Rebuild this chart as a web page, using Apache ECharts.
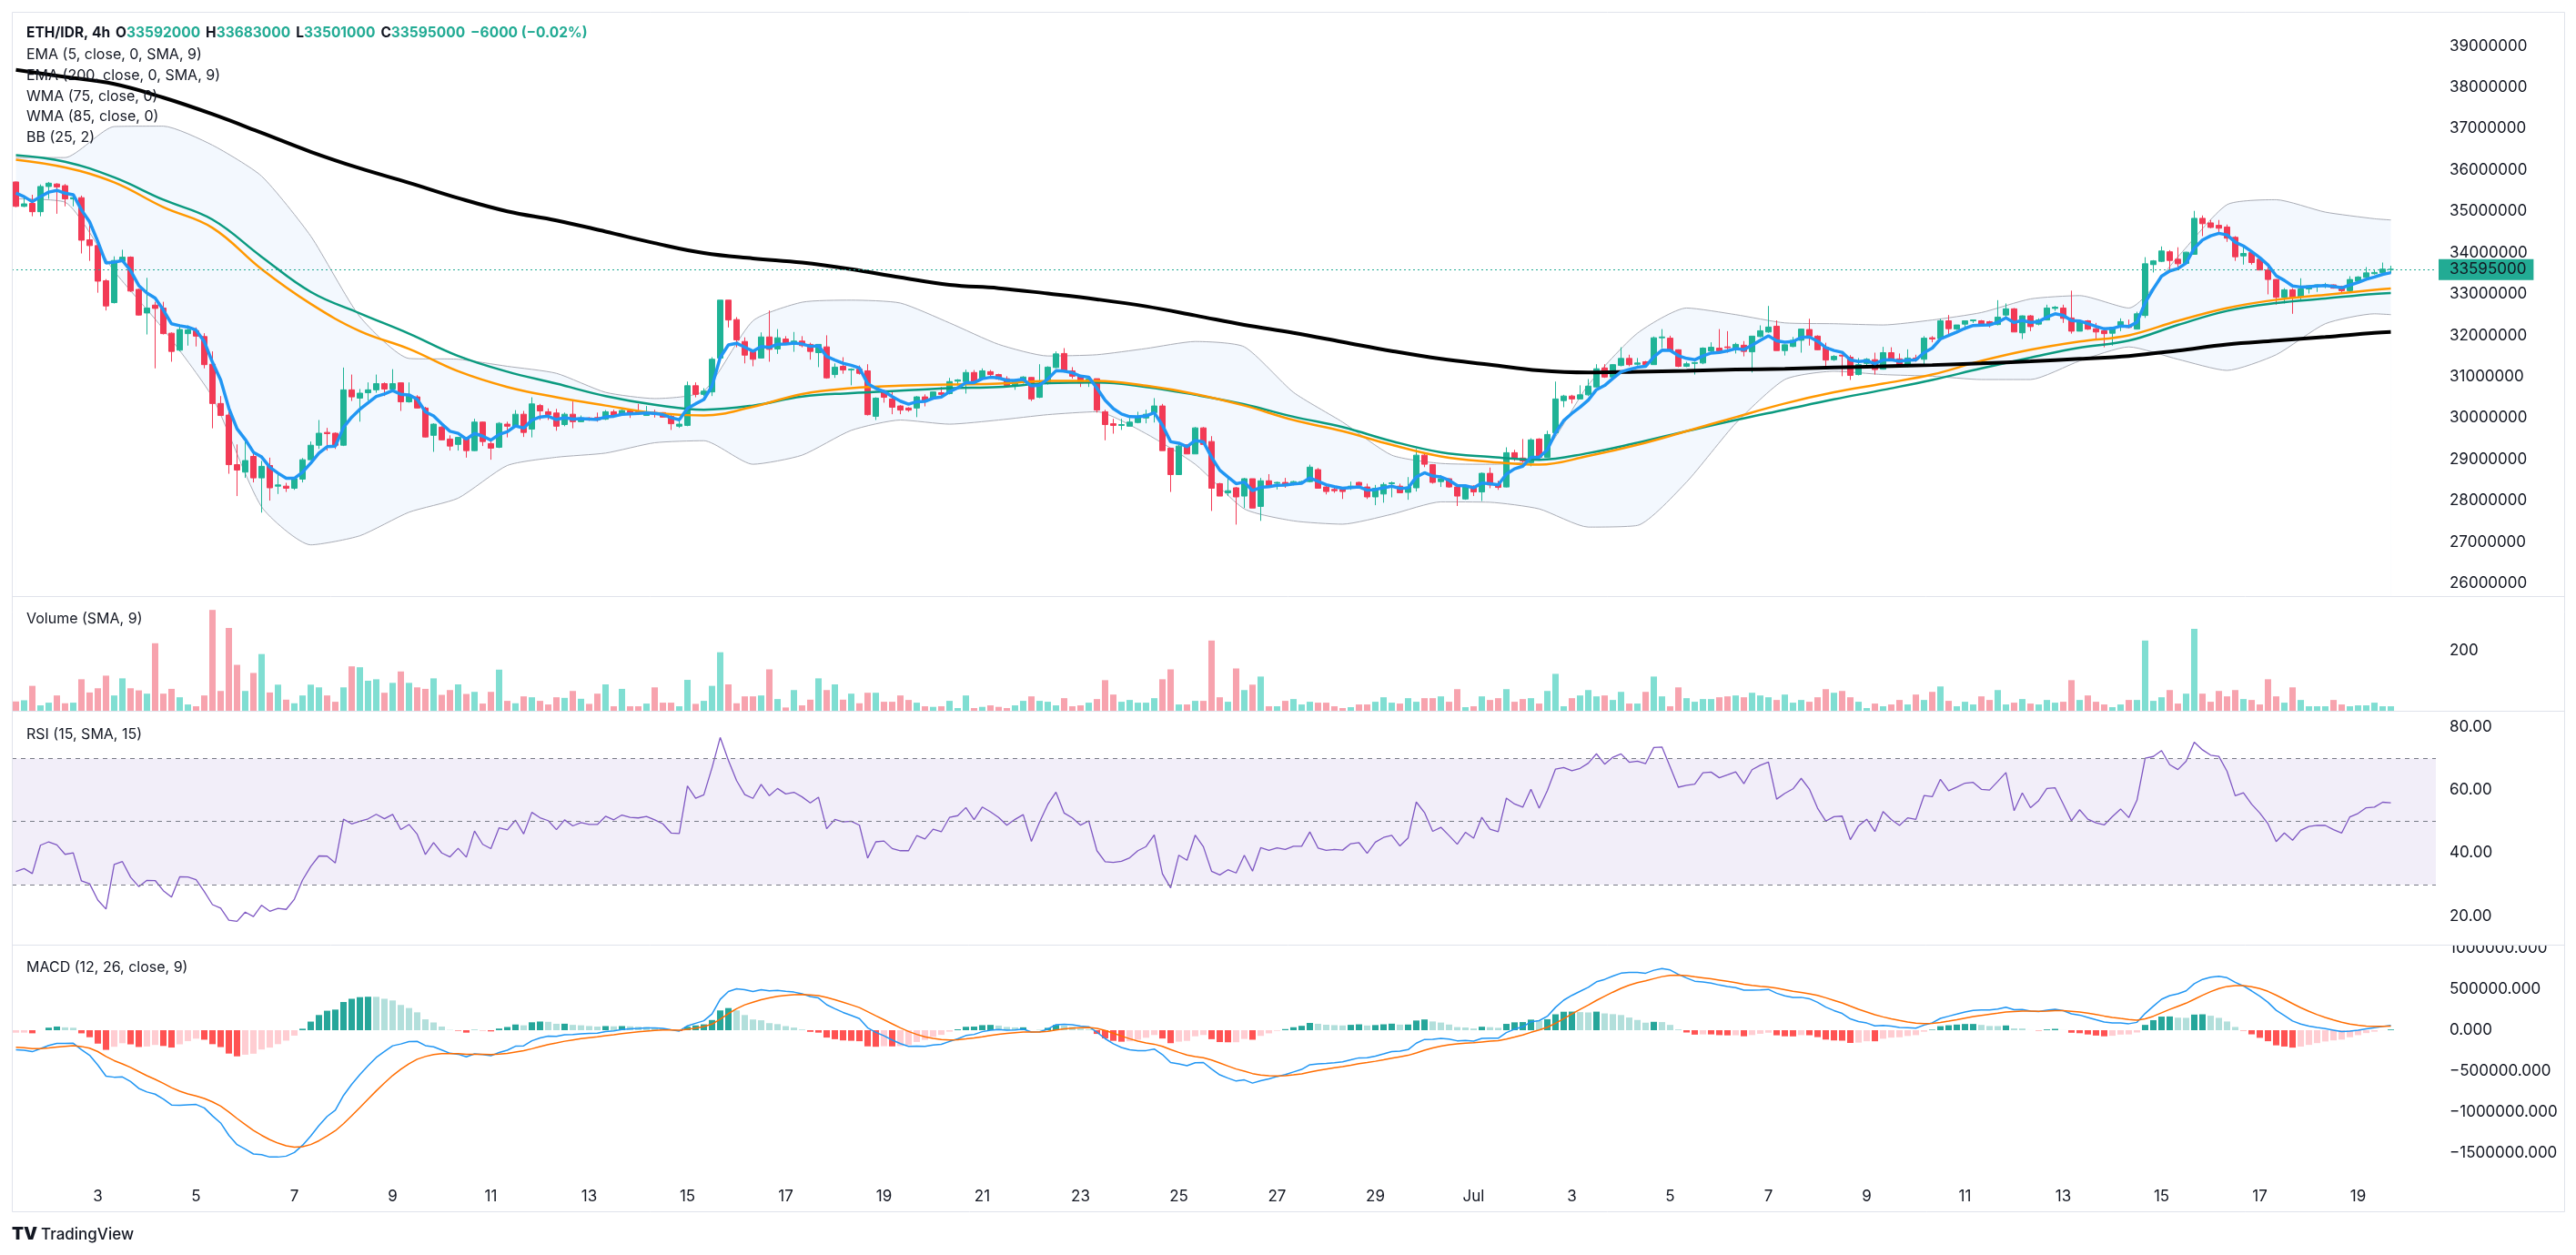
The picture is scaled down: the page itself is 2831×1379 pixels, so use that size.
<!DOCTYPE html>
<html>
<head>
<meta charset="utf-8">
<title>ETH/IDR 4h</title>
<script src="https://cdn.jsdelivr.net/npm/echarts@6/dist/echarts.min.js"></script>
<style>
  html, body { margin: 0; padding: 0; background: #ffffff; }
  #chart { width: 2831px; height: 1379px; }
</style>
</head>
<body>
<div id="chart"></div>
<script>
// Prices in millions of IDR, one 4h candle per entry, first candle Jun 1 08:00
const open = [
  35.71,35.12,35.19,34.99,35.60,35.66,35.62,35.30,35.33,34.31,
  34.17,33.32,32.79,33.79,33.89,33.11,32.54,32.73,32.66,32.05,
  31.64,32.04,32.11,31.97,31.30,30.35,30.07,28.87,28.69,29.07,
  28.55,28.85,28.35,28.35,28.30,28.52,28.99,29.34,29.65,29.63,
  29.34,30.68,30.48,30.61,30.68,30.83,30.70,30.85,30.39,30.51,
  30.24,29.58,29.78,29.49,29.36,29.53,29.21,29.90,29.38,29.29,
  29.85,29.80,30.09,29.73,30.30,30.15,30.12,29.84,30.09,29.91,
  30.00,30.01,29.97,30.15,30.08,30.17,30.15,30.06,30.13,30.13,
  30.04,29.80,29.82,30.78,30.57,30.63,31.45,32.85,32.38,31.85,
  31.60,31.45,31.96,31.67,31.91,31.83,31.86,31.78,31.58,31.72,
  31.05,31.25,31.16,31.18,31.14,30.04,30.66,30.46,30.29,30.24,
  30.24,30.51,30.47,30.61,30.59,30.89,30.88,31.10,30.95,31.12,
  31.05,30.95,30.79,30.90,30.98,30.50,30.83,31.22,31.56,31.14,
  31.01,30.86,30.95,30.15,29.86,29.82,29.80,29.89,30.00,30.13,
  30.29,29.27,28.63,29.35,29.13,29.76,29.43,28.41,28.19,28.31,
  28.11,28.53,27.86,28.48,28.42,28.44,28.42,28.45,28.46,28.75,
  28.33,28.27,28.27,28.33,28.44,28.33,28.09,28.16,28.41,28.35,
  28.20,28.31,29.10,28.87,28.46,28.53,28.33,28.04,28.35,28.21,
  28.66,28.41,28.33,29.16,29.03,28.92,29.49,29.05,29.64,30.42,
  30.53,30.46,30.56,30.75,31.21,30.99,31.27,31.44,31.30,31.36,
  31.29,31.94,31.93,31.65,31.25,31.32,31.33,31.62,31.69,31.72,
  31.69,31.76,31.60,31.97,32.08,32.22,31.63,31.73,31.88,32.14,
  31.98,31.71,31.41,31.52,31.47,31.05,31.32,31.41,31.18,31.58,
  31.43,31.30,31.45,31.42,31.94,31.92,32.35,32.15,32.27,32.35,
  32.35,32.33,32.26,32.49,32.64,32.06,32.47,32.27,32.37,32.65,
  32.66,32.42,32.10,32.35,32.16,32.11,32.05,32.22,32.22,32.15,
  32.48,33.71,33.79,34.02,33.84,33.74,33.96,34.83,34.72,34.66,
  34.62,34.37,33.92,34.00,33.84,33.58,33.35,32.92,33.10,32.92,
  33.12,33.20,33.21,33.22,33.18,33.08,33.31,33.40,33.49,33.52,
  33.592
];
const high = [
  35.72,35.34,35.40,35.65,35.71,35.68,35.66,35.34,35.38,34.79,
  34.35,33.36,33.91,34.07,33.91,33.13,33.39,32.81,32.81,32.07,
  32.26,32.24,32.19,32.05,31.61,30.53,30.29,29.36,29.51,29.18,
  28.96,29.04,28.64,28.43,28.55,29.03,29.43,29.95,29.76,29.65,
  31.22,31.05,30.70,30.86,31.05,30.86,31.18,30.86,30.86,30.55,
  30.27,29.87,29.80,29.58,29.54,29.54,29.98,29.91,29.47,29.90,
  29.91,30.19,30.17,30.50,30.34,30.23,30.22,30.13,30.40,30.06,
  30.02,30.13,30.19,30.20,30.20,30.17,30.34,30.29,30.20,30.14,
  30.10,29.95,30.88,30.86,30.72,31.47,32.85,32.85,32.44,31.95,
  31.64,32.07,32.60,32.15,31.98,32.08,31.98,31.82,31.78,32.00,
  31.32,31.47,31.20,31.27,31.30,30.50,30.68,30.66,30.31,30.26,
  30.53,30.57,30.64,30.75,30.97,30.94,31.17,31.16,31.20,31.16,
  31.07,31.01,30.94,31.01,30.99,31.30,31.25,31.61,31.69,31.23,
  31.03,31.00,30.95,30.20,29.98,29.98,30.00,30.15,30.20,30.48,
  30.34,29.27,29.36,29.36,29.78,29.78,29.56,28.43,28.55,28.33,
  28.55,28.53,28.55,28.64,28.46,28.55,28.48,28.48,28.87,28.79,
  28.41,28.33,28.30,28.46,28.46,28.41,28.38,28.44,28.46,28.41,
  28.57,29.25,29.14,28.88,28.62,28.54,28.37,28.37,28.37,28.68,
  28.80,28.48,29.29,29.23,29.49,29.51,29.51,29.69,30.88,30.56,
  30.56,30.79,30.94,31.30,31.30,31.30,31.71,31.53,31.45,31.38,
  31.97,32.15,31.99,31.66,31.36,31.36,31.71,31.83,32.15,32.10,
  31.82,31.86,31.98,32.24,32.71,32.36,31.78,31.96,32.16,32.40,
  32.00,31.82,31.52,31.52,31.52,31.45,31.45,31.58,31.72,31.71,
  31.56,31.66,31.53,31.98,31.98,32.40,32.49,32.25,32.35,32.37,
  32.37,32.35,32.85,32.77,32.66,32.48,32.49,32.41,32.74,32.71,
  32.74,33.08,32.37,32.37,32.30,32.19,32.20,32.41,32.38,32.57,
  33.89,33.82,34.15,34.06,34.13,34.02,35.01,34.90,34.79,34.79,
  34.68,34.40,34.13,34.02,33.89,33.65,33.36,33.14,33.14,33.38,
  33.21,33.23,33.27,33.23,33.20,33.43,33.43,33.65,33.58,33.76,
  33.683
];
const low = [
  35.10,35.10,34.88,34.88,35.30,34.94,35.12,35.12,33.98,33.80,
  33.03,32.60,32.77,33.78,33.05,32.48,32.02,31.20,32.02,31.36,
  31.61,31.75,31.73,31.20,29.75,30.06,28.65,28.11,28.55,28.44,
  27.71,28.00,28.16,28.21,28.26,28.44,28.99,29.25,29.21,29.25,
  29.32,30.41,29.91,30.42,30.61,30.53,30.68,30.17,30.37,30.23,
  29.53,29.18,29.46,29.21,29.21,29.04,29.20,29.32,28.99,29.27,
  29.53,29.80,29.54,29.53,29.95,29.95,29.69,29.80,29.75,29.90,
  29.93,29.91,29.95,30.04,30.06,30.00,30.07,30.06,30.01,30.01,
  29.71,29.76,29.80,30.50,30.53,30.53,31.44,32.19,31.71,31.32,
  31.25,31.44,31.36,31.55,31.80,31.60,31.71,31.41,31.23,30.95,
  30.97,31.07,30.79,31.05,30.06,29.95,30.37,30.09,30.09,30.15,
  30.02,30.28,30.46,30.50,30.57,30.79,30.59,30.83,30.94,31.01,
  30.92,30.74,30.68,30.83,30.41,30.48,30.81,31.20,31.10,30.95,
  30.75,30.75,30.13,29.46,29.62,29.71,29.80,29.87,29.87,29.89,
  29.21,28.21,28.63,29.13,29.13,29.36,27.75,28.11,28.11,27.42,
  27.82,27.82,27.51,28.31,28.27,28.31,28.37,28.43,28.44,28.30,
  28.15,28.19,28.04,28.26,28.30,28.04,27.89,27.95,28.08,28.19,
  28.02,28.22,28.81,28.41,28.33,28.31,27.87,28.02,28.11,27.99,
  28.30,28.26,28.32,28.96,28.92,28.83,29.03,29.05,29.64,30.26,
  30.35,30.45,30.53,30.74,30.97,30.95,31.25,31.25,31.27,31.27,
  31.29,31.69,31.61,31.23,31.23,31.05,31.30,31.58,31.60,31.58,
  31.56,31.49,31.10,31.95,32.06,31.63,31.51,31.71,31.58,31.75,
  31.64,31.25,31.38,31.01,30.92,31.03,31.23,31.05,31.17,31.39,
  31.25,31.23,31.36,31.30,31.83,31.91,31.98,32.13,32.13,32.30,
  32.26,32.19,32.24,32.44,32.08,31.91,32.10,32.24,32.36,32.59,
  32.30,32.04,32.10,32.13,31.91,31.71,31.75,32.10,32.17,32.14,
  32.42,33.52,33.77,33.54,33.65,33.73,33.95,34.40,34.59,34.45,
  34.26,33.80,33.71,33.71,33.57,32.99,32.74,32.77,32.52,32.85,
  33.01,33.05,33.14,33.13,33.01,33.07,33.29,33.36,33.47,33.47,
  33.501
];
const close = [
  35.12,35.18,34.99,35.60,35.68,35.59,35.30,35.33,34.30,34.17,
  33.31,32.71,33.81,33.89,33.07,32.49,32.66,32.65,32.04,31.61,
  32.14,32.13,31.98,31.29,30.35,30.06,28.87,28.74,28.97,28.55,
  28.83,28.31,28.38,28.30,28.53,28.99,29.34,29.63,29.62,29.34,
  30.68,30.51,30.60,30.68,30.83,30.70,30.83,30.39,30.53,30.24,
  29.54,29.85,29.47,29.32,29.53,29.21,29.90,29.43,29.27,29.87,
  29.80,30.09,29.65,30.34,30.17,30.08,29.80,30.09,29.91,30.00,
  29.95,29.95,30.15,30.07,30.18,30.13,30.12,30.15,30.09,30.02,
  29.86,29.85,30.78,30.57,30.65,31.42,32.85,32.37,31.89,31.52,
  31.42,31.96,31.66,31.94,31.80,31.86,31.75,31.61,31.78,30.97,
  31.23,31.16,31.18,31.08,30.08,30.48,30.50,30.26,30.19,30.19,
  30.51,30.42,30.63,30.57,30.88,30.92,31.10,30.86,31.14,31.05,
  30.94,30.79,30.90,30.99,30.46,30.83,31.23,31.55,31.12,31.01,
  30.85,30.94,30.19,29.84,29.82,29.84,29.90,30.02,30.09,30.29,
  29.21,28.63,29.32,29.13,29.76,29.36,28.30,28.11,28.24,28.09,
  28.53,27.82,28.48,28.37,28.44,28.38,28.46,28.46,28.81,28.30,
  28.22,28.24,28.22,28.35,28.37,28.09,28.30,28.39,28.43,28.19,
  28.33,29.10,28.88,28.44,28.53,28.33,28.11,28.35,28.21,28.66,
  28.38,28.32,29.16,29.03,28.96,29.47,29.05,29.60,30.46,30.53,
  30.46,30.56,30.77,31.19,30.99,31.29,31.44,31.29,31.33,31.29,
  31.94,31.96,31.63,31.25,31.31,31.34,31.69,31.71,31.62,31.70,
  31.78,31.61,31.98,32.11,32.20,31.63,31.77,31.88,32.15,31.98,
  31.65,31.40,31.49,31.50,31.03,31.29,31.42,31.17,31.58,31.42,
  31.30,31.45,31.42,31.93,31.91,32.35,32.16,32.25,32.35,32.37,
  32.27,32.26,32.44,32.64,32.08,32.47,32.21,32.37,32.66,32.68,
  32.41,32.10,32.33,32.15,32.08,32.04,32.19,32.33,32.19,32.52,
  33.73,33.80,34.04,33.81,33.73,34.01,34.83,34.70,34.61,34.59,
  34.35,33.90,33.98,33.76,33.58,33.35,32.92,33.10,32.92,33.12,
  33.20,33.22,33.22,33.14,33.08,33.35,33.41,33.51,33.52,33.601,
  33.595
];
const volume = [
  31,35,83,18,27,51,25,27,105,61,
  75,117,51,108,75,68,57,225,57,73,
  45,21,15,51,336,66,276,153,66,126,
  189,61,87,37,25,51,87,78,51,30,
  78,148,145,100,105,60,93,131,93,78,
  73,108,53,69,88,56,63,24,63,137,
  33,25,48,45,33,21,45,43,66,40,
  23,57,88,15,73,15,15,24,78,27,
  27,15,103,23,33,83,195,88,25,48,
  48,51,138,39,11,69,18,37,108,69,
  88,37,57,25,60,60,30,30,51,36,
  27,15,13,15,33,9,51,9,13,18,
  13,9,18,33,48,33,30,18,42,
  15,18,27,39,102,54,30,36,27,27,
  42,105,138,21,21,33,33,234,45,30,
  141,69,87,114,15,15,33,39,21,30,
  27,27,15,9,12,21,21,30,45,
  27,24,42,30,42,42,48,30,72,12,
  15,48,36,42,72,30,39,42,24,66,
  123,15,42,51,69,48,51,36,63,24,
  24,63,114,48,15,78,42,30,39,39,
  45,48,51,45,60,51,45,36,54,27,
  36,30,45,72,60,66,45,30,9,24,
  15,21,36,21,54,36,63,81,33,
  15,30,21,48,36,69,21,27,39,24,
  21,36,27,30,102,36,51,30,21,12,
  21,36,36,234,33,45,69,24,57,273,
  57,30,66,48,69,39,36,21,105,48,
  27,78,36,15,15,15,36,21,15,18,
  18,27,15,15
];

// Long averages and Bollinger bands, one point every 6 candles
const lineIdx = [0,6,12,18,24,30,36,42,48,54,60,66,72,78,84,90,96,102,108,114,120,126,132,138,144,150,156,162,168,174,180,186,192,198,204,210,216,222,228,234,240,246,252,258,264,270,276,282,288,290];
const ema200 = [
  38.42,38.25,38.08,37.75,37.35,36.90,36.44,36.04,35.69,35.32,
  35.00,34.78,34.51,34.23,33.99,33.86,33.76,33.60,33.40,33.22,
  33.14,33.01,32.87,32.70,32.48,32.25,32.06,31.84,31.62,31.43,
  31.29,31.15,31.10,31.12,31.14,31.17,31.19,31.22,31.25,31.28,
  31.32,31.37,31.43,31.50,31.63,31.78,31.87,31.96,32.06,32.08
];
const wma75 = [
  36.25,36.06,35.70,35.10,34.60,33.60,32.76,32.10,31.67,31.13,
  30.75,30.50,30.30,30.12,30.06,30.27,30.58,30.72,30.78,30.81,
  30.83,30.90,30.90,30.78,30.58,30.30,29.95,29.68,29.35,29.07,
  28.94,28.87,29.08,29.35,29.68,30.02,30.35,30.62,30.83,31.05,
  31.38,31.65,31.85,32.00,32.35,32.66,32.86,32.98,33.10,33.13
];
const wma85 = [
  36.36,36.20,35.82,35.28,34.80,33.90,33.05,32.53,32.04,31.50,
  31.12,30.83,30.53,30.32,30.20,30.30,30.52,30.60,30.66,30.72,
  30.75,30.84,30.86,30.75,30.56,30.33,30.03,29.78,29.44,29.17,
  29.06,28.99,29.15,29.40,29.68,29.95,30.20,30.45,30.68,30.92,
  31.20,31.46,31.70,31.87,32.25,32.59,32.78,32.89,33.00,33.02
];
const bbUpper = [
  36.30,36.30,37.05,37.06,36.60,35.85,34.40,32.45,31.44,31.42,
  31.25,31.08,30.62,30.47,30.65,32.35,32.80,32.85,32.78,32.30,
  31.78,31.50,31.53,31.68,31.85,31.72,30.62,29.90,29.10,28.90,
  28.88,29.03,30.80,32.05,32.66,32.50,32.30,32.28,32.25,32.37,
  32.55,32.88,32.96,32.66,33.90,35.16,35.28,34.98,34.82,34.79
];
const bbLower = [
  35.30,35.22,33.55,32.15,30.50,27.85,26.93,27.15,27.72,28.06,
  28.85,29.05,29.15,29.40,29.45,28.88,29.10,29.70,29.95,29.85,
  29.95,30.08,30.15,29.62,28.88,27.80,27.51,27.43,27.67,27.97,
  27.96,27.80,27.36,27.40,28.45,29.87,30.93,31.13,31.05,31.01,
  30.93,30.93,31.38,31.72,31.42,31.15,31.53,32.28,32.52,32.50
];

// State of the indicators before the first candle (read from the left edge)
const seed = { ema5: 35.6, ema12: 35.55, ema26: 35.77, signal: -0.2, rsiUp: 0.11, rsiDown: 0.17 };

const priceTicks = [26, 27, 28, 29, 30, 31, 32, 33, 34, 35, 36, 37, 38, 39];
const volumeTicks = [200];
const rsiTicks = [20, 40, 60, 80];
const macdTicks = [1, 0.5, 0, -0.5, -1, -1.5];
const lastPrice = 33.595;
const emptySlots = 5;

const colors = {
    up: '#1fb396',
    down: '#f23a55',
    volUp: '#80ded2',
    volDown: '#f7a3ae',
    ema5: '#2196f3',
    ema200: '#000000',
    wma75: '#ff9800',
    wma85: '#0b9a7f',
    bb: '#a9acb5',
    bbFill: '#f3f8fe',
    rsi: '#7e57c2',
    macd: '#2196f3',
    signal: '#ff6d00',
    text: '#131722',
    frame: '#e0e3eb'
};
const font = 'Inter, "Noto Sans", sans-serif';

// time categories, 4h apart
const startTime = Date.UTC(2023, 5, 1, 8);
const times = [];
for (let i = 0; i < close.length + emptySlots; i++) times.push(startTime + i * 4 * 3600 * 1000);
const categories = times.map(t => String(t));

function isDayLabel(index) {
    const d = new Date(times[index]);
    return d.getUTCHours() === 0 && d.getUTCDate() % 2 === 1;
}

// EMA 5
const ema5 = [];
let e5 = seed.ema5;
close.forEach(c => { e5 += (c - e5) * 2 / 6; ema5.push(e5); });

// RSI 15 (RMA)
const rsi = [];
let avgUp = seed.rsiUp, avgDown = seed.rsiDown;
close.forEach((c, i) => {
    const ch = c - (i === 0 ? open[0] : close[i - 1]);
    avgUp += (Math.max(ch, 0) - avgUp) / 15;
    avgDown += (Math.max(-ch, 0) - avgDown) / 15;
    rsi.push(100 - 100 / (1 + avgUp / avgDown));
});

// MACD 12 26 9
const macd = [], signal = [], hist = [];
let fast = seed.ema12, slow = seed.ema26, sig = seed.signal;
close.forEach(c => {
    fast += (c - fast) * 2 / 13;
    slow += (c - slow) * 2 / 27;
    const m = fast - slow;
    sig += (m - sig) * 2 / 10;
    macd.push(m);
    signal.push(sig);
    hist.push(m - sig);
});
const histData = hist.map((h, i) => {
    const prev = i === 0 ? h : hist[i - 1];
    let c;
    if (h >= 0) c = h > prev ? '#26a69a' : '#b2dfdb';
    else c = h < prev ? '#ff5252' : '#ffcdd2';
    return { value: h, itemStyle: { color: c } };
});

const candles = open.map((o, i) => [o, close[i], low[i], high[i]]);
const volData = volume.map((v, i) => ({
    value: v,
    itemStyle: { color: close[i] >= open[i] ? colors.volUp : colors.volDown }
}));
const pairs = arr => lineIdx.map((x, k) => [x, arr[k]]);

const axisText = { color: colors.text, fontSize: 17, fontFamily: font };
const minus = s => s.replace('-', '\u2212');

function yAxisFor(grid, min, max, ticks, fmt) {
    return {
        type: 'value', gridIndex: grid, position: 'right', min: min, max: max,
        axisLine: { show: false }, axisTick: { show: false }, splitLine: { show: false },
        axisLabel: Object.assign({ customValues: ticks, formatter: fmt, margin: 15 }, axisText)
    };
}

const legendRich = {
    t: { color: colors.text, fontSize: 15.5, fontFamily: font },
    k: { color: colors.text, fontSize: 15.5, fontFamily: font, padding: [0, 0, 0, 6] },
    v: { color: '#22ab94', fontSize: 15.5, fontFamily: font },
    w: { color: '#22ab94', fontSize: 15.5, fontFamily: font, padding: [0, 0, 0, 6] }
};
function label(text, top) {
    return { text: text, left: 24, top: top, textStyle: { color: colors.text, fontSize: 16, fontFamily: font, fontWeight: 'normal' } };
}

const chart = echarts.init(document.getElementById('chart'));
chart.setOption({
    animation: false,
    backgroundColor: '#ffffff',
    title: [
        {
            left: 24, top: 23,
            text: '{t|ETH/IDR, 4h}{k|O}{v|33592000}{k|H}{v|33683000}{k|L}{v|33501000}{k|C}{v|33595000}{w|\u22126000 (\u22120.02%)}',
            textStyle: { rich: legendRich }
        },
        label('EMA (5, close, 0, SMA, 9)', 47),
        label('EMA (200, close, 0, SMA, 9)', 70),
        label('WMA (75, close, 0)', 93),
        label('WMA (85, close, 0)', 115),
        label('BB (25, 2)', 138),
        label('Volume (SMA, 9)', 667),
        label('RSI (15, SMA, 15)', 794),
        label('MACD (12, 26, close, 9)', 1050)
    ],
    grid: [
        { left: 13, top: 13, width: 2664, height: 642 },
        { left: 13, top: 656, width: 2664, height: 125 },
        { left: 13, top: 782, width: 2664, height: 256 },
        { left: 13, top: 1039, width: 2664, height: 256 }
    ],
    xAxis: [0, 1, 2, 3].map(g => ({
        type: 'category', gridIndex: g, data: categories, boundaryGap: true,
        axisLine: { show: false }, axisTick: { show: false }, splitLine: { show: false },
        axisLabel: g === 3 ? Object.assign({
            margin: 11,
            interval: index => isDayLabel(index),
            formatter: value => {
                const d = new Date(Number(value));
                return d.getUTCDate() === 1 ? 'Jul' : String(d.getUTCDate());
            }
        }, axisText) : { show: false }
    })),
    yAxis: [
        yAxisFor(0, 25.69, 39.826, priceTicks, v => String(Math.round(v * 1e6))),
        yAxisFor(1, 0, 379, volumeTicks, v => String(v)),
        yAxisFor(2, 10.93, 84.85, rsiTicks, v => v.toFixed(2)),
        yAxisFor(3, -1.811, 1.0333, macdTicks, v => minus((Math.round(v * 1e6)).toFixed(3)))
    ],
    series: [
        {
            name: 'BB upper', type: 'line', xAxisIndex: 0, yAxisIndex: 0, z: 1,
            data: pairs(bbUpper), showSymbol: false, smooth: 0.2,
            lineStyle: { color: colors.bb, width: 1 },
            areaStyle: { color: colors.bbFill, origin: 'start', opacity: 1 }
        },
        {
            name: 'BB lower', type: 'line', xAxisIndex: 0, yAxisIndex: 0, z: 1,
            data: pairs(bbLower), showSymbol: false, smooth: 0.2,
            lineStyle: { color: colors.bb, width: 1 },
            areaStyle: { color: '#ffffff', origin: 'start', opacity: 1 }
        },
        {
            name: 'ETH/IDR', type: 'candlestick', xAxisIndex: 0, yAxisIndex: 0, z: 2,
            data: candles, barWidth: 6,
            itemStyle: { color: colors.up, color0: colors.down, borderColor: colors.up, borderColor0: colors.down, borderWidth: 1 },
            markLine: {
                silent: true, symbol: ['none', 'none'],
                data: [{ yAxis: lastPrice }],
                lineStyle: { color: '#22ab94', type: [2, 3], width: 1 },
                label: {
                    position: 'end', distance: 3,
                    formatter: String(Math.round(lastPrice * 1e6)),
                    backgroundColor: '#22ab94', color: colors.text,
                    fontSize: 17, fontFamily: font, lineHeight: 17, padding: [3, 8, 3, 12]
                }
            }
        },
        {
            name: 'WMA 85', type: 'line', xAxisIndex: 0, yAxisIndex: 0, z: 3,
            data: pairs(wma85), showSymbol: false, smooth: 0.4,
            lineStyle: { color: colors.wma85, width: 2.5 }
        },
        {
            name: 'WMA 75', type: 'line', xAxisIndex: 0, yAxisIndex: 0, z: 3,
            data: pairs(wma75), showSymbol: false, smooth: 0.4,
            lineStyle: { color: colors.wma75, width: 2.5 }
        },
        {
            name: 'EMA 200', type: 'line', xAxisIndex: 0, yAxisIndex: 0, z: 3,
            data: pairs(ema200), showSymbol: false, smooth: 0.4,
            lineStyle: { color: colors.ema200, width: 4 }
        },
        {
            name: 'EMA 5', type: 'line', xAxisIndex: 0, yAxisIndex: 0, z: 4,
            data: ema5, showSymbol: false,
            lineStyle: { color: colors.ema5, width: 3.5 }
        },
        {
            name: 'Volume', type: 'bar', xAxisIndex: 1, yAxisIndex: 1,
            data: volData, barWidth: 7
        },
        {
            name: 'RSI', type: 'line', xAxisIndex: 2, yAxisIndex: 2,
            data: rsi, showSymbol: false,
            lineStyle: { color: colors.rsi, width: 1.3 },
            markArea: {
                silent: true,
                itemStyle: { color: 'rgba(126, 87, 194, 0.1)' },
                data: [[{ yAxis: 30 }, { yAxis: 70 }]]
            },
            markLine: {
                silent: true, symbol: ['none', 'none'],
                label: { show: false },
                lineStyle: { color: '#787b86', type: [5, 5], width: 1 },
                data: [{ yAxis: 70 }, { yAxis: 50 }, { yAxis: 30 }]
            }
        },
        {
            name: 'Histogram', type: 'bar', xAxisIndex: 3, yAxisIndex: 3,
            data: histData, barWidth: 7
        },
        {
            name: 'MACD', type: 'line', xAxisIndex: 3, yAxisIndex: 3,
            data: macd, showSymbol: false,
            lineStyle: { color: colors.macd, width: 1.5 }
        },
        {
            name: 'Signal', type: 'line', xAxisIndex: 3, yAxisIndex: 3,
            data: signal, showSymbol: false,
            lineStyle: { color: colors.signal, width: 1.5 }
        }
    ],
    graphic: [
        { type: 'rect', z: 50, silent: true, shape: { x: 2679, y: 1020, width: 138, height: 18 }, style: { fill: '#ffffff' } },
        { type: 'rect', z: 60, silent: true, shape: { x: 13.5, y: 13.5, width: 2805, height: 1318 }, style: { fill: 'none', stroke: colors.frame, lineWidth: 1 } },
        { type: 'line', z: 60, silent: true, shape: { x1: 13, y1: 655.5, x2: 2818, y2: 655.5 }, style: { stroke: colors.frame, lineWidth: 1 } },
        { type: 'line', z: 60, silent: true, shape: { x1: 13, y1: 781.5, x2: 2818, y2: 781.5 }, style: { stroke: colors.frame, lineWidth: 1 } },
        { type: 'line', z: 60, silent: true, shape: { x1: 13, y1: 1038.5, x2: 2818, y2: 1038.5 }, style: { stroke: colors.frame, lineWidth: 1 } },
        { type: 'text', z: 60, left: 13, top: 1347, style: { text: 'TV', fill: colors.text, font: '900 19px ' + font } },
        { type: 'text', z: 60, left: 45, top: 1348, style: { text: 'TradingView', fill: colors.text, font: '500 17px ' + font } }
    ]
});
</script>
</body>
</html>
